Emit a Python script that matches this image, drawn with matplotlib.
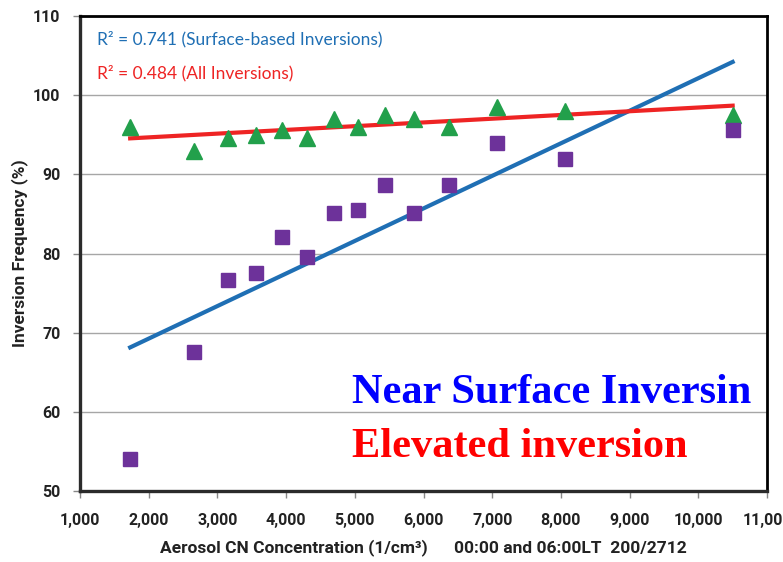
import matplotlib.pyplot as plt
import numpy as np

# Aerosol CN concentration (1/cm3) per bin
cn = np.array([1730, 2660, 3150, 3560, 3940, 4300, 4700, 5050, 5440,
               5860, 6370, 7070, 8060, 10500])
# Inversion frequency (%)
surface_based = np.array([54.1, 67.5, 76.6, 77.6, 82.1, 79.6, 85.1, 85.5,
                          88.6, 85.1, 88.6, 94.0, 92.0, 95.6])
all_inversions = np.array([96.0, 93.0, 94.6, 95.0, 95.6, 94.6, 97.0, 96.0,
                           97.5, 97.0, 96.0, 98.5, 98.0, 97.5])

x_ticks = np.arange(1000, 11001, 1000)
y_ticks = np.arange(50, 111, 10)

plt.rcParams['font.family'] = ['Roboto', 'DejaVu Sans']

fig = plt.figure(figsize=(7.83, 5.62), dpi=100)
ax = fig.add_axes([80 / 783, 1 - 491 / 562, 687 / 783, 475 / 562])

ax.set_xlim(1000, 11000)
ax.set_ylim(50, 110)
ax.set_xticks(x_ticks)
ax.set_yticks(y_ticks)
ax.set_xticklabels([f"{v:,}" for v in x_ticks], fontsize=11.5, fontweight='bold',
                   color='#222222')
ax.set_yticklabels([str(v) for v in y_ticks], fontsize=11.5, fontweight='bold',
                   color='#222222')
ax.tick_params(axis='x', length=5, width=1, color='#888888', pad=11)
ax.tick_params(axis='y', length=5, width=1, color='#888888', pad=9)
ax.grid(axis='y', color='#a6a6a6', lw=1)
ax.set_axisbelow(True)

for side in ['left', 'bottom']:
    ax.spines[side].set_linewidth(2.4)
    ax.spines[side].set_color('#2b2b2b')
for side in ['top', 'right']:
    ax.spines[side].set_linewidth(2)
    ax.spines[side].set_color('black')

# linear trends
line_x = np.array([cn.min(), cn.max()])
fit_s = np.polyfit(cn, surface_based, 1)
fit_a = np.polyfit(cn, all_inversions, 1)
ax.plot(line_x, np.polyval(fit_s, line_x), color='#1f6fb4', lw=3, zorder=2)
ax.plot(line_x, np.polyval(fit_a, line_x), color='#ee2424', lw=3, zorder=2)

ax.plot(cn, all_inversions, '^', color='#22a04b', ms=12, mec='#22a04b', zorder=3)
ax.plot(cn, surface_based, 's', color='#6d329a', ms=9.5, mec='#6d329a', zorder=3)

ax.text(0.025, 0.968, "R² = 0.741 (Surface-based Inversions)", transform=ax.transAxes,
        color='#1f6fb4', fontsize=12.5, va='top', family=['Lato', 'DejaVu Sans'])
ax.text(0.025, 0.898, "R² = 0.484 (All Inversions)", transform=ax.transAxes,
        color='#ee2424', fontsize=12.5, va='top', family=['Lato', 'DejaVu Sans'])

ax.text(0.396, 0.185, "Near Surface Inversin", transform=ax.transAxes, color='#0000ff',
        fontsize=30.5, fontweight='bold', family='Liberation Serif', ha='left')
ax.text(0.396, 0.072, "Elevated inversion", transform=ax.transAxes, color='#ff0000',
        fontsize=30.5, fontweight='bold', family='Liberation Serif', ha='left')

ax.set_ylabel("Inversion Frequency (%)", fontsize=12.5, fontweight='bold', labelpad=4,
              color='#222222')
ax.set_xlabel("Aerosol CN Concentration (1/cm³)      00:00 and 06:00LT  200/2712",
              fontsize=12.5, fontweight='bold', labelpad=8, color='#222222')

fig.savefig("out.png", dpi=100)
